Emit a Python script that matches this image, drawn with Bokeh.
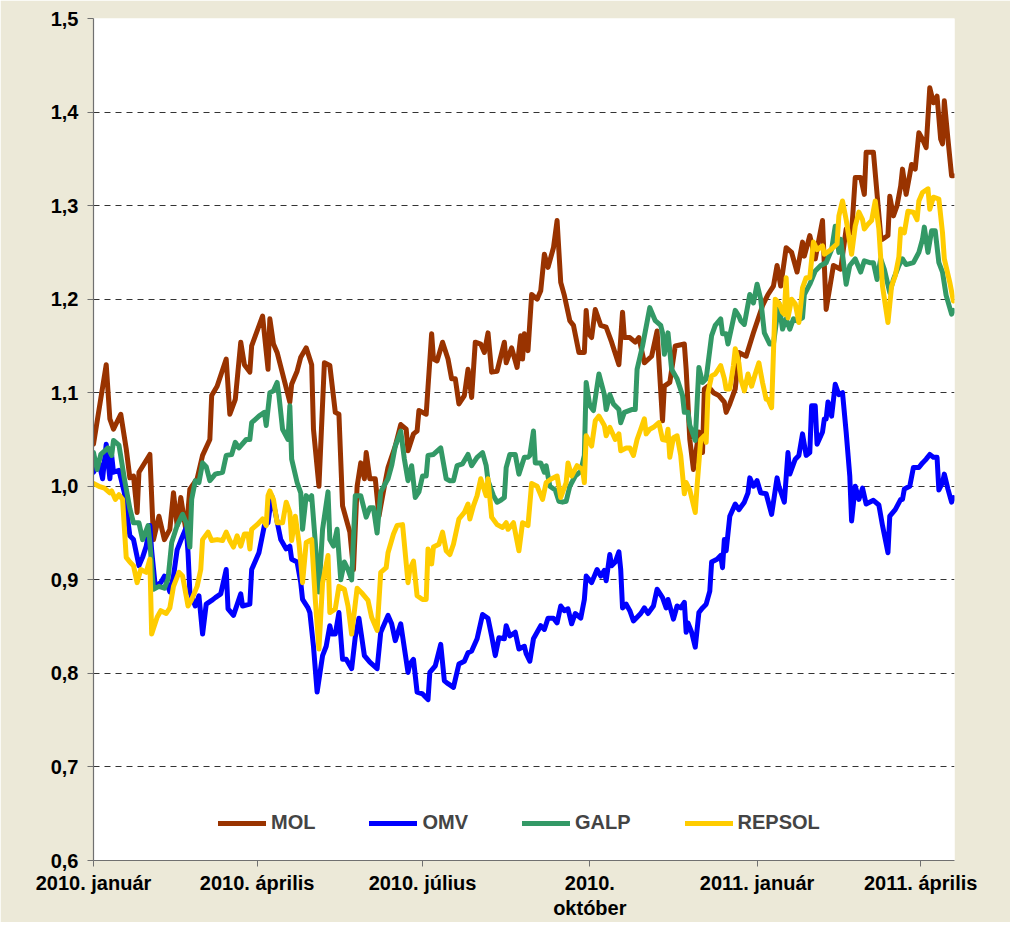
from bokeh.plotting import figure
from bokeh.models import Range1d, FixedTicker, CustomJSTickFormatter, Legend, LegendItem
from bokeh.embed import file_html
from bokeh.resources import INLINE

# days since 2010-01-01 and index values
mol_day = [0, 7, 9, 11, 15, 18, 20, 22, 24, 25, 31, 33, 36, 39, 42, 44, 46, 48, 51, 53, 57, 60, 64, 65, 68, 73, 75, 78, 81, 83, 86, 87, 93, 96, 97, 99, 101, 108, 109, 112, 114, 117, 119,
           120, 121, 124, 127, 130, 133, 135, 137, 141, 143, 145, 147, 149, 150, 152, 155, 157, 160, 162, 166, 169, 172, 173, 176, 178, 179, 183, 184, 186, 187, 189, 192, 195, 197, 199, 201, 204, 206, 208, 210, 213, 215, 217, 219, 222, 226, 227, 230, 233,
           235, 236, 237, 239, 241, 244, 246, 248, 250, 253, 255, 257, 259, 262, 264, 267, 270, 271, 272, 274, 276, 279, 282, 285, 289, 291, 292, 295, 298, 300, 303, 307, 310, 313, 314, 317, 320, 325, 326, 328, 330, 333, 335, 336, 338, 341, 344, 347, 348, 350, 353, 355,
           359, 363, 368, 371, 374, 376, 378, 381, 384, 387, 390, 391, 394, 397, 401, 403, 407, 411, 414, 417, 419, 422, 424, 425, 429, 433, 434, 437, 438, 440, 442, 444, 445, 447, 450, 452, 454, 456, 458, 460, 462, 464, 466, 467, 468, 470, 472, 473]
mol_val = [1.045, 1.130, 1.072, 1.061, 1.077, 1.040, 1.009, 1.011, 0.972, 1.015, 1.034, 0.943, 0.968, 0.943, 0.954, 0.993, 0.958, 0.988, 0.951, 0.997, 1.008, 1.033, 1.050, 1.097, 1.107, 1.136, 1.077, 1.093, 1.154, 1.130, 1.122, 1.150, 1.182, 1.125, 1.179, 1.152, 1.143, 1.090, 1.109, 1.123, 1.138, 1.148, 1.136,
           1.130, 1.061, 1.000, 1.132, 1.129, 1.079, 1.077, 0.979, 0.951, 0.911, 1.000, 1.025, 1.008, 1.036, 1.008, 1.008, 0.968, 1.000, 1.020, 1.043, 1.066, 1.061, 1.038, 1.056, 1.059, 1.081, 1.077, 1.106, 1.163, 1.136, 1.134, 1.154, 1.136, 1.115, 1.115, 1.088, 1.097, 1.125, 1.095, 1.154, 1.152, 1.143, 1.164, 1.122, 1.123, 1.154, 1.132, 1.148, 1.127,
           1.161, 1.136, 1.163, 1.145, 1.205, 1.200, 1.209, 1.248, 1.234, 1.255, 1.284, 1.218, 1.204, 1.177, 1.172, 1.143, 1.143, 1.188, 1.164, 1.159, 1.189, 1.172, 1.170, 1.154, 1.130, 1.186, 1.159, 1.159, 1.154, 1.159, 1.132, 1.139, 1.166, 1.070, 1.107, 1.111, 1.150, 1.152, 1.125, 1.050, 1.018, 1.058, 1.036, 1.104, 1.107, 1.100, 1.097, 1.090, 1.079, 1.088, 1.104, 1.143,
           1.139, 1.164, 1.193, 1.205, 1.214, 1.236, 1.214, 1.255, 1.250, 1.229, 1.261, 1.246, 1.268, 1.243, 1.284, 1.189, 1.236, 1.232, 1.275, 1.271, 1.330, 1.330, 1.312, 1.357, 1.357, 1.268, 1.264, 1.268, 1.310, 1.289, 1.300, 1.321, 1.339, 1.312, 1.344, 1.339, 1.378, 1.371, 1.362, 1.426, 1.410, 1.417, 1.371, 1.366, 1.412, 1.371, 1.332, 1.332]

omv_day = [0, 3, 5, 7, 9, 10, 11, 14, 17, 20, 22, 25, 27, 29, 31, 32, 34, 37, 39, 42, 44, 46, 48, 51, 52, 53, 56, 58, 60, 62, 65, 67, 70, 73, 74, 77, 81, 82, 86, 87, 91, 94, 96, 98, 100, 103, 106, 108, 109, 112, 114, 115, 118, 119,
           121, 123, 126, 128, 130, 131, 133, 135, 137, 139, 142, 144, 146, 149, 152, 156, 158, 162, 164, 166, 169, 173, 174, 176, 178, 181, 184, 185, 188, 191, 193, 195, 198, 201, 204, 206, 208, 211, 214, 217, 219, 221, 223, 226, 227, 229, 232, 234, 237, 238,
           240, 242, 246, 248, 250, 253, 255, 257, 259, 261, 263, 265, 268, 270, 271, 274, 277, 279, 281, 282, 284, 285, 287, 289, 290, 291, 293, 295, 297, 301, 303, 305, 308, 310, 313, 315, 316, 319, 321, 323, 325, 326, 327, 329, 331, 333, 335, 337, 339, 340, 343, 345, 346, 347, 348, 350, 353, 355,
           358, 360, 361, 363, 365, 367, 370, 373, 376, 377, 380, 382, 383, 386, 388, 390, 392, 394, 395, 397, 398, 401, 402, 403, 404, 406, 408, 410, 412, 414, 416, 417, 419, 421, 423, 425, 429, 432, 434, 437, 438, 441, 444, 445, 446, 449, 451, 454, 456, 458, 460, 462, 464, 465, 467, 468, 470, 472, 473]
omv_val = [1.015, 1.025, 1.008, 1.045, 1.008, 1.033, 1.015, 1.017, 0.993, 0.947, 0.943, 0.915, 0.924, 0.936, 0.958, 0.931, 0.893, 0.897, 0.904, 0.887, 0.904, 0.932, 0.942, 0.956, 0.929, 0.887, 0.872, 0.883, 0.842, 0.874, 0.878, 0.881, 0.885, 0.911, 0.869, 0.862, 0.885, 0.872, 0.874, 0.911, 0.929, 0.958, 0.961, 0.990, 0.972, 0.943, 0.933, 0.936, 0.922, 0.919, 0.897, 0.879, 0.870, 0.865,
           0.829, 0.780, 0.819, 0.829, 0.851, 0.842, 0.842, 0.865, 0.815, 0.815, 0.805, 0.839, 0.859, 0.819, 0.812, 0.805, 0.844, 0.862, 0.853, 0.835, 0.853, 0.801, 0.810, 0.815, 0.780, 0.778, 0.772, 0.801, 0.808, 0.831, 0.792, 0.789, 0.785, 0.810, 0.813, 0.822, 0.824, 0.837, 0.863, 0.859, 0.840, 0.819, 0.838, 0.837, 0.851, 0.840, 0.844, 0.826, 0.829, 0.821,
           0.813, 0.837, 0.851, 0.847, 0.859, 0.859, 0.854, 0.872, 0.867, 0.869, 0.853, 0.864, 0.859, 0.879, 0.904, 0.897, 0.911, 0.904, 0.910, 0.899, 0.927, 0.915, 0.919, 0.930, 0.911, 0.870, 0.874, 0.867, 0.856, 0.864, 0.870, 0.864, 0.872, 0.890, 0.881, 0.870, 0.879, 0.858, 0.872, 0.870, 0.876, 0.844, 0.854, 0.844, 0.828, 0.865, 0.870, 0.874, 0.888, 0.919, 0.922, 0.926, 0.913, 0.943, 0.931, 0.968, 0.981, 0.975,
           0.983, 0.993, 1.009, 1.000, 1.006, 0.993, 0.992, 0.970, 1.009, 1.000, 0.983, 1.036, 1.013, 1.029, 1.033, 1.056, 1.033, 1.036, 1.086, 1.086, 1.045, 1.058, 1.072, 1.072, 1.090, 1.075, 1.109, 1.098, 1.100, 1.058, 1.011, 0.963, 1.000, 0.986, 0.998, 0.981, 0.985, 0.980, 0.958, 0.929, 0.968, 0.975, 0.986, 0.986, 0.997, 1.000, 1.020, 1.020, 1.025, 1.029, 1.034, 1.031, 1.031, 0.996, 1.004, 1.013, 0.997, 0.983, 0.988]

galp_day = [0, 2, 4, 8, 10, 11, 14, 17, 20, 22, 25, 27, 30, 31, 33, 36, 39, 41, 43, 46, 49, 51, 53, 54, 56, 58, 60, 62, 64, 67, 71, 73, 76, 78, 80, 84, 86, 87, 91, 94, 95, 97, 99, 101, 102, 104, 107, 108, 109, 112, 114, 115, 117, 119,
            120, 122, 124, 126, 129, 130, 132, 134, 136, 138, 140, 142, 144, 147, 150, 152, 154, 156, 158, 162, 164, 166, 169, 171, 173, 175, 177, 179, 181, 183, 184, 187, 191, 194, 196, 198, 200, 203, 206, 208, 211, 214, 216, 217, 220, 222, 224, 226, 227, 229, 232, 234, 237, 239,
            240, 242, 243, 246, 248, 249, 251, 254, 256, 258, 260, 262, 265, 268, 270, 271, 273, 275, 278, 281, 282, 284, 286, 289, 290, 292, 296, 298, 299, 302, 306, 309, 312, 313, 314, 316, 318, 321, 324, 325, 327, 328, 331, 333, 335, 337, 340, 342, 345, 346, 348, 349, 351, 353, 355,
            356, 358, 361, 363, 365, 367, 369, 372, 374, 377, 379, 381, 383, 385, 387, 390, 391, 394, 397, 400, 403, 406, 408, 410, 411, 414, 416, 419, 422, 424, 427, 429, 431, 433, 435, 438, 440, 443, 445, 447, 451, 454, 456, 457, 459, 461, 463, 465, 467, 469, 472, 473]
galp_val = [1.036, 1.018, 1.034, 1.041, 1.033, 1.049, 1.044, 1.008, 0.976, 0.961, 0.961, 0.943, 0.958, 0.940, 0.890, 0.893, 0.891, 0.901, 0.940, 0.958, 0.970, 0.961, 0.935, 0.986, 1.006, 1.004, 1.025, 1.021, 1.006, 1.013, 1.015, 1.033, 1.034, 1.047, 1.041, 1.050, 1.050, 1.068, 1.075, 1.079, 1.065, 1.100, 1.102, 1.111, 1.097, 1.061, 1.050, 1.086, 1.029, 1.004, 0.993, 0.954, 0.990, 0.986,
            0.990, 0.940, 0.887, 0.954, 0.994, 0.943, 0.936, 0.954, 0.900, 0.919, 0.911, 0.900, 0.990, 0.990, 0.967, 0.977, 0.977, 0.950, 0.994, 1.008, 1.022, 1.043, 1.059, 1.029, 1.006, 1.022, 0.988, 0.994, 1.011, 1.011, 1.033, 1.034, 1.041, 1.008, 1.006, 1.006, 1.022, 1.024, 1.034, 1.022, 1.031, 1.036, 1.022, 1.006, 0.990, 0.983, 0.985, 0.988, 1.020, 1.034, 1.034, 1.013, 1.031, 1.031,
            1.033, 1.059, 1.025, 1.025, 1.015, 1.022, 1.000, 0.996, 0.984, 0.983, 0.984, 1.000, 1.011, 1.016, 1.033, 1.111, 1.086, 1.081, 1.120, 1.098, 1.082, 1.098, 1.088, 1.082, 1.068, 1.079, 1.082, 1.082, 1.125, 1.150, 1.191, 1.177, 1.172, 1.164, 1.141, 1.164, 1.125, 1.115, 1.097, 1.079, 1.079, 1.065, 1.049, 1.127, 1.111, 1.115, 1.161, 1.172, 1.179, 1.163, 1.163, 1.152, 1.170, 1.188, 1.182,
            1.177, 1.173, 1.205, 1.196, 1.216, 1.200, 1.164, 1.152, 1.152, 1.196, 1.168, 1.179, 1.168, 1.179, 1.177, 1.180, 1.205, 1.216, 1.230, 1.236, 1.239, 1.253, 1.278, 1.250, 1.264, 1.216, 1.236, 1.243, 1.229, 1.241, 1.239, 1.239, 1.221, 1.243, 1.232, 1.207, 1.221, 1.236, 1.243, 1.237, 1.239, 1.250, 1.264, 1.277, 1.250, 1.273, 1.273, 1.239, 1.229, 1.204, 1.184, 1.188]

repsol_day = [0, 3, 6, 9, 10, 12, 14, 16, 18, 20, 22, 24, 26, 29, 31, 32, 35, 37, 40, 42, 44, 47, 49, 52, 54, 57, 59, 60, 63, 65, 68, 71, 73, 75, 77, 79, 81, 83, 85, 86, 87, 90, 93, 95, 96, 97, 99, 101, 104, 106, 108, 109, 111, 113, 115, 117, 119,
              120, 122, 124, 126, 129, 130, 133, 135, 138, 140, 142, 145, 148, 151, 153, 156, 158, 161, 162, 165, 167, 170, 173, 174, 176, 178, 181, 183, 184, 186, 187, 190, 192, 194, 196, 198, 201, 204, 206, 207, 209, 211, 213, 216, 217, 219, 222, 225, 227, 228, 231, 234, 236,
              239, 241, 244, 247, 249, 252, 255, 257, 260, 261, 263, 266, 269, 270, 271, 274, 276, 278, 281, 282, 284, 287, 289, 290, 293, 295, 297, 299, 301, 303, 304, 306, 308, 311, 313, 315, 316, 317, 319, 321, 323, 325, 326, 328, 331, 332, 334, 336, 337, 338, 340, 342, 345, 347, 348, 350, 352, 353, 355,
              356, 358, 360, 362, 364, 366, 368, 370, 371, 373, 375, 377, 379, 380, 381, 382, 384, 386, 388, 390, 392, 394, 396, 398, 401, 402, 405, 409, 410, 412, 414, 417, 419, 421, 423, 424, 426, 428, 430, 432, 434, 437, 439, 441, 443, 444, 446, 448, 451, 453, 454, 456, 459, 460, 462, 465, 467, 468, 471, 473]
repsol_val = [1.003, 1.000, 0.998, 0.993, 0.995, 0.986, 0.991, 0.986, 0.924, 0.919, 0.915, 0.897, 0.911, 0.908, 0.922, 0.842, 0.860, 0.867, 0.864, 0.870, 0.893, 0.908, 0.904, 0.872, 0.879, 0.893, 0.911, 0.943, 0.951, 0.942, 0.943, 0.942, 0.951, 0.942, 0.935, 0.947, 0.936, 0.949, 0.949, 0.933, 0.954, 0.959, 0.965, 0.958, 0.990, 0.995, 0.986, 0.961, 0.961, 0.983, 0.972, 0.942, 0.968, 0.940, 0.897, 0.940, 0.942,
              0.943, 0.879, 0.826, 0.897, 0.926, 0.865, 0.869, 0.893, 0.890, 0.872, 0.842, 0.891, 0.885, 0.878, 0.860, 0.846, 0.908, 0.913, 0.929, 0.949, 0.958, 0.959, 0.897, 0.911, 0.920, 0.883, 0.879, 0.879, 0.933, 0.917, 0.935, 0.938, 0.951, 0.931, 0.927, 0.938, 0.965, 0.972, 0.981, 0.965, 0.979, 0.990, 1.008, 0.990, 1.008, 0.967, 0.959, 0.956, 0.961, 0.954, 0.961, 0.931, 0.961,
              0.958, 1.003, 1.000, 0.986, 1.004, 1.008, 1.011, 0.988, 1.004, 1.025, 1.011, 1.022, 1.018, 1.004, 1.054, 1.043, 1.070, 1.075, 1.065, 1.054, 1.063, 1.050, 1.056, 1.038, 1.041, 1.041, 1.033, 1.050, 1.061, 1.072, 1.056, 1.061, 1.063, 1.068, 1.050, 1.049, 1.061, 1.031, 1.052, 1.054, 1.033, 0.992, 1.004, 0.996, 0.972, 1.000, 1.050, 1.054, 1.047, 1.100, 1.118, 1.120, 1.129, 1.115, 1.104, 1.104, 1.129, 1.147, 1.132,
              1.115, 1.102, 1.120, 1.107, 1.120, 1.132, 1.111, 1.093, 1.093, 1.084, 1.200, 1.196, 1.186, 1.184, 1.223, 1.180, 1.200, 1.195, 1.175, 1.212, 1.223, 1.223, 1.261, 1.253, 1.257, 1.248, 1.252, 1.259, 1.289, 1.305, 1.285, 1.248, 1.278, 1.293, 1.285, 1.275, 1.280, 1.284, 1.305, 1.275, 1.214, 1.175, 1.214, 1.225, 1.245, 1.275, 1.271, 1.294, 1.293, 1.285, 1.305, 1.314, 1.318, 1.296, 1.309, 1.307, 1.271, 1.243, 1.218, 1.198]

series_names = ["MOL", "OMV", "GALP", "REPSOL"]
series_colors = ["#993300", "#0000FF", "#339966", "#FFCC00"]
x_tick_days = [0, 90, 181, 273, 365, 455]
x_tick_labels = ["2010. január", "2010. április", "2010. július", "2010.\noktóber", "2011. január", "2011. április"]
y_ticks = [0.6, 0.7, 0.8, 0.9, 1.0, 1.1, 1.2, 1.3, 1.4, 1.5]

FONT = "Liberation Sans"

p = figure(width=1010, height=922, output_backend="svg", toolbar_location=None,
           x_range=Range1d(0, 473.6), y_range=Range1d(0.6, 1.5),
           min_border_left=93, min_border_right=56, min_border_top=18, min_border_bottom=62)
p.background_fill_color = "white"
p.border_fill_color = "#ECE9D8"
p.outline_line_color = None

renderers = []
for d, v, c in zip([mol_day, omv_day, galp_day, repsol_day],
                   [mol_val, omv_val, galp_val, repsol_val], series_colors):
    r = p.line(d, v, line_color=c, line_width=5, line_join="round", line_cap="round")
    renderers.append(r)

p.xgrid.visible = False
p.ygrid.grid_line_color = "#333333"
p.ygrid.grid_line_dash = "6 5"
p.ygrid.grid_line_width = 1
p.ygrid.ticker = FixedTicker(ticks=y_ticks)

p.yaxis.ticker = FixedTicker(ticks=y_ticks)
p.yaxis.formatter = CustomJSTickFormatter(code="return tick.toFixed(1).replace('.', ',');")
p.xaxis.ticker = FixedTicker(ticks=x_tick_days)
p.xaxis.major_label_overrides = dict(zip(x_tick_days, x_tick_labels))

for ax in (p.xaxis, p.yaxis):
    ax.axis_line_color = "#707070"
    ax.axis_line_width = 1.2
    ax.major_tick_line_color = "#707070"
    ax.major_tick_out = 6
    ax.major_tick_in = 0
    ax.minor_tick_line_color = None
    ax.major_label_text_font = FONT
    ax.major_label_text_font_style = "bold"
    ax.major_label_text_font_size = "20px"
    ax.major_label_text_color = "#000000"
p.yaxis.major_label_standoff = 9
p.xaxis.major_label_standoff = 5
p.xaxis.major_label_text_line_height = 1.15

legend = Legend(items=[LegendItem(label=n, renderers=[r]) for n, r in zip(series_names, renderers)],
                orientation="horizontal", location=(125, 26),
                glyph_width=48, glyph_height=20, label_standoff=5, spacing=54,
                padding=0, margin=0, background_fill_alpha=0, border_line_color=None,
                label_text_font=FONT, label_text_font_style="bold", label_text_font_size="20px")
p.add_layout(legend)

html = file_html(p, INLINE)
html = html.replace("<body>", '<body style="background-color:#DCDCDC;">', 1)
open("out.html", "w").write(html)
